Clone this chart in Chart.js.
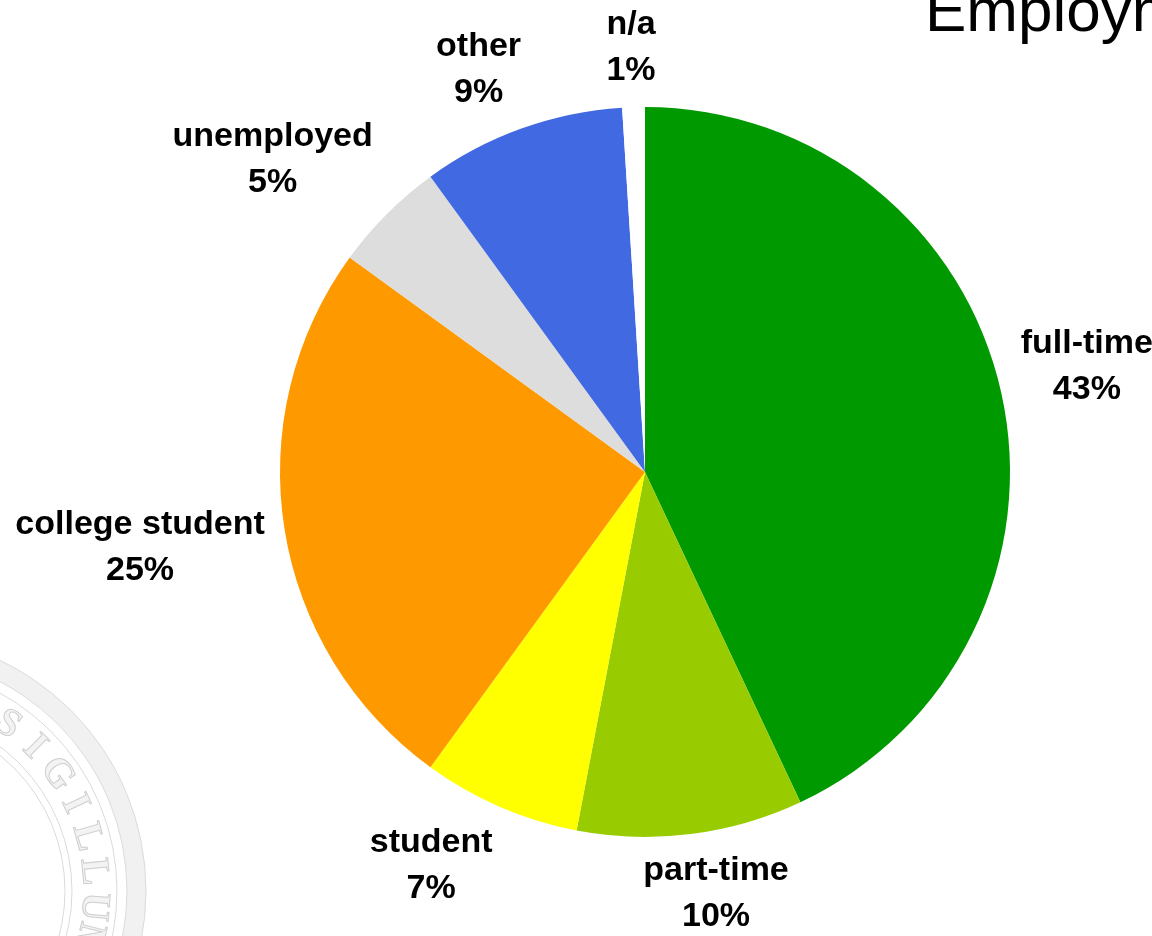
<!DOCTYPE html>
<html>
<head>
<meta charset="utf-8">
<title>Employment</title>
<script src="https://cdn.jsdelivr.net/npm/chart.js@4/dist/chart.umd.min.js"></script>
<style>
  html, body { margin: 0; padding: 0; background: #ffffff; }
  #wrap { position: relative; width: 1152px; height: 936px; overflow: hidden; }
</style>
</head>
<body>
<div id="wrap"><canvas id="employment-chart"></canvas></div>
<script>
// --- données ---
const categories = ['full-time', 'part-time', 'student', 'college student', 'unemployed', 'other', 'n/a'];
const shares = [43, 10, 7, 25, 5, 9, 1];
const sliceColors = ['#009900', '#99cc00', '#ffff00', '#ff9900', '#dddddd', '#4169e1', '#ffffff'];
const chartTitle = 'Employment';

const FONT = '"Liberation Sans", Arial, sans-serif';

// sceau en filigrane, en bas à gauche
const sealPlugin = {
    id: 'seal',
    beforeDraw(chart) {
        const ctx = chart.ctx;
        const cx = -109, cy = 891;
        ctx.save();
        // bande extérieure
        ctx.beginPath();
        ctx.arc(cx, cy, 255, 0, Math.PI * 2);
        ctx.arc(cx, cy, 236, 0, Math.PI * 2, true);
        ctx.fillStyle = '#f1f1f1';
        ctx.fill();
        ctx.strokeStyle = '#dadada';
        ctx.lineWidth = 1;
        [255, 236, 226, 181, 174].forEach(r => {
            ctx.beginPath();
            ctx.arc(cx, cy, r, 0, Math.PI * 2);
            ctx.stroke();
        });
        // lettres le long de l'anneau
        ctx.font = 'bold 40px "Liberation Serif", serif';
        ctx.textAlign = 'center';
        ctx.textBaseline = 'middle';
        const letters = 'SIGILLUM';
        letters.split('').forEach((ch, k) => {
            const a = (-55 + k * 9.9) * Math.PI / 180;
            ctx.save();
            ctx.translate(cx + 203 * Math.cos(a), cy + 203 * Math.sin(a));
            ctx.rotate(a + Math.PI / 2);
            ctx.fillStyle = '#f3f3f3';
            ctx.fillText(ch, 0, 0);
            ctx.strokeStyle = '#cfcfcf';
            ctx.strokeText(ch, 0, 0);
            ctx.restore();
        });
        ctx.restore();
    }
};

// titre (coupé par le bord droit)
const titlePlugin = {
    id: 'bigTitle',
    afterDraw(chart) {
        const ctx = chart.ctx;
        ctx.save();
        ctx.font = '62px ' + FONT;
        ctx.fillStyle = '#000000';
        ctx.textAlign = 'left';
        ctx.textBaseline = 'alphabetic';
        ctx.fillText(chartTitle, 925, 31);
        ctx.restore();
    }
};

// étiquettes à l'extérieur : nom + pourcentage
// la boîte glisse vite vers le côté de la tranche (facteur k) pour ne pas mordre sur le disque
const outsideLabels = {
    id: 'outsideLabels',
    afterDatasetsDraw(chart) {
        const ctx = chart.ctx;
        const meta = chart.getDatasetMeta(0);
        const lineGap = 46;
        const k = 2.5;
        const clamp = v => Math.max(-1, Math.min(1, v));
        ctx.save();
        ctx.font = 'bold 34px ' + FONT;
        ctx.fillStyle = '#000000';
        ctx.textAlign = 'center';
        ctx.textBaseline = 'middle';
        meta.data.forEach((arc, i) => {
            const { x, y, startAngle, endAngle, outerRadius } = arc.getProps(['x', 'y', 'startAngle', 'endAngle', 'outerRadius'], true);
            const mid = (startAngle + endAngle) / 2;
            const ux = Math.cos(mid), uy = Math.sin(mid);
            const line1 = categories[i];
            const line2 = shares[i] + '%';
            const w = Math.max(ctx.measureText(line1).width, ctx.measureText(line2).width);
            const h = lineGap + 34;
            const d = outerRadius + 20;
            const bx = x + ux * d + clamp(ux * k) * w / 2;
            const by = y + uy * d + clamp(uy * k) * h / 2;
            ctx.fillText(line1, bx, by - lineGap / 2);
            ctx.fillText(line2, bx, by + lineGap / 2);
        });
        ctx.restore();
    }
};

new Chart(document.getElementById('employment-chart'), {
    type: 'pie',
    data: {
        labels: categories,
        datasets: [{
            data: shares,
            backgroundColor: sliceColors,
            borderWidth: 0,
            hoverOffset: 0,
            offset: 0
        }]
    },
    options: {
        responsive: true,
        maintainAspectRatio: false,
        animation: false,
        layout: { padding: { left: 280, right: 142, top: 107, bottom: 99 } },
        plugins: {
            legend: { display: false },
            tooltip: { enabled: false }
        }
    },
    plugins: [sealPlugin, outsideLabels, titlePlugin]
});
</script>
</body>
</html>
